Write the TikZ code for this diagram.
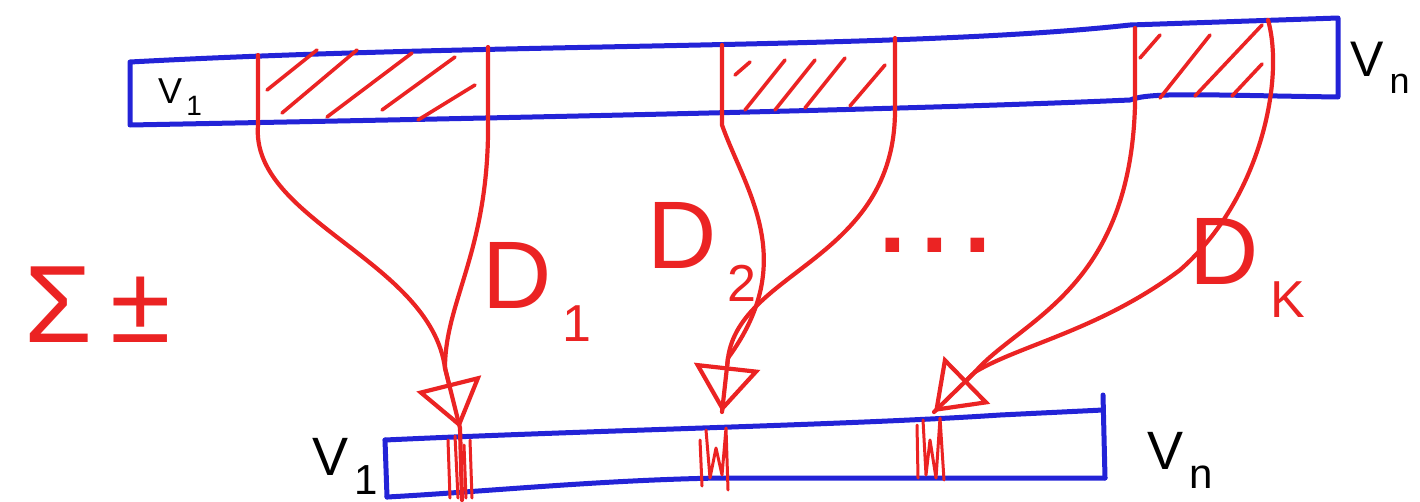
\documentclass[tikz,border=0pt]{standalone}
\usepackage{fontspec}
\setmainfont{Liberation Sans}
\usetikzlibrary{arrows.meta}
\definecolor{penblue}{RGB}{35,35,215}
\definecolor{penred}{RGB}{235,35,35}
\newcommand{\sub}[2]{#1\kern.12em\raisebox{-.35em}{\fontsize{52}{52}\selectfont #2}}
\begin{document}
\begin{tikzpicture}[x=1pt,y=-1pt,
  bar/.style={draw=penblue, line width=5pt, line join=round, line cap=round},
  redline/.style={draw=penred, line width=4.2pt, line cap=round, line join=round},
  tip/.style={-{Triangle[open, length=46pt, width=66pt, line width=4.2pt]}},
  redlabel/.style={text=penred, inner sep=0pt, font=\fontsize{96}{96}\selectfont},
  blacklabel/.style={text=black, inner sep=0pt}
]
\useasboundingbox (0,0) rectangle (1420,501);

% ---- top bar ----
\coordinate (TL) at (130,62);
\coordinate (TR) at (1338,18);
\coordinate (BL) at (130,125);
\coordinate (BR) at (1338,97);
\draw[bar] (TL) .. controls (500,42) and (900,50) .. (1130,25) -- (TR) -- (BR)
  .. controls (1200,95) and (1150,92) .. (1130,100)
  .. controls (900,110) and (500,118) .. (BL) -- cycle;

% ---- bottom bar ----
\coordinate (bTL) at (385,440);
\coordinate (bTR) at (1103,410);
\coordinate (bBL) at (387,497);
\coordinate (bBR) at (1105,478);
\draw[bar] (bTL) .. controls (600,430) and (850,425) .. (1000,415) -- (bTR);
\draw[bar] (1103,395) -- (bBR);
\draw[bar] (bBL) .. controls (480,492) and (600,480) .. (720,478) -- (bBR);
\draw[bar] (bTL) -- (bBL);

% ---- hatched regions ----
\begin{scope}[redline, line width=3.6pt]
  \draw (267,90) -- (317,50);
  \draw (282,113) -- (357,50);
  \draw (327,117) -- (412,53);
  \draw (382,110) -- (455,57);
  \draw (418,120) -- (475,85);
  \draw (735,75) -- (750,62);
  \draw (745,110) -- (785,60);
  \draw (775,110) -- (815,60);
  \draw (805,108) -- (845,58);
  \draw (850,106) -- (885,65);
  \draw (1140,58) -- (1160,35);
  \draw (1160,98) -- (1210,35);
  \draw (1195,96) -- (1262,25);
  \draw (1232,96) -- (1262,64);
\end{scope}

% ---- convergence points ----
\coordinate (m1) at (445,368);
\coordinate (t1) at (460,428);
\coordinate (m2) at (728,358);
\coordinate (t2) at (722,412);
\coordinate (m3) at (975,372);
\coordinate (t3) at (934,412);

% ---- D1 ----
\draw[redline] (258,55) -- (258,125) .. controls (250,220) and (430,260) .. (m1);
\draw[redline] (488,47) -- (488,118) .. controls (490,250) and (445,300) .. (m1);
\draw[redline] (m1) -- (t1) -- (462,500);
\draw[redline, tip] (m1) -- (t1);

% ---- D2 ----
\draw[redline] (722,45) -- (722,125) .. controls (745,190) and (800,260) .. (m2);
\draw[redline] (895,38) -- (895,110) .. controls (895,260) and (740,270) .. (m2);
\draw[redline] (m2) -- (t2);
\draw[redline, tip] (m2) -- (t2);

% ---- Dk ----
\draw[redline] (1135,28) -- (1135,105) .. controls (1130,290) and (1020,320) .. (m3);
\draw[redline] (1268,20) .. controls (1285,80) and (1260,200) .. (1180,270) .. controls (1100,330) and (1020,345) .. (m3);
\draw[redline] (m3) -- (t3);
\draw[redline, tip] (m3) -- (t3);

% ---- scribbles in bottom bar ----
\begin{scope}[redline, line width=3pt]
  \draw (448,440) -- (450,498);
  \draw (455,436) -- (458,498);
  \draw (464,445) -- (466,498);
  \draw (470,440) -- (472,498);
  \draw (700,440) -- (702,486);
  \draw (706,430) -- (710,478) -- (716,448) -- (722,475) -- (726,428) -- (728,490);
  \draw (917,425) -- (918,478);
  \draw (923,420) -- (926,475) -- (930,440) -- (936,478) -- (940,418) -- (944,480);
\end{scope}

% ---- labels ----
\node[blacklabel, font=\fontsize{36}{36}\selectfont] (v1top) at (180,97) {\sub{V}{\fontsize{28}{28}\selectfont 1}};
\node[blacklabel, font=\fontsize{50}{50}\selectfont] (vntop) at (1380,68) {\sub{V}{\fontsize{36}{36}\selectfont n}};
\node[blacklabel, font=\fontsize{54}{54}\selectfont] (v1bot) at (345,466) {\sub{V}{\fontsize{42}{42}\selectfont 1}};
\node[blacklabel, font=\fontsize{54}{54}\selectfont] (vnbot) at (1180,460) {\sub{V}{\fontsize{42}{42}\selectfont n}};

\node[redlabel] (D1) at (537,292) {\sub{D}{1}};
\node[redlabel] (D2) at (702,252) {\sub{D}{2}};
\node[redlabel] (dots) at (935,245) {\textbf{.\,.\,.}};
\node[redlabel] (Dk) at (1247,268) {\sub{D}{K}};
\node[redlabel, font=\fontsize{110}{110}\selectfont] (sum) at (98,305) {Σ\,±};
\end{tikzpicture}
\end{document}
